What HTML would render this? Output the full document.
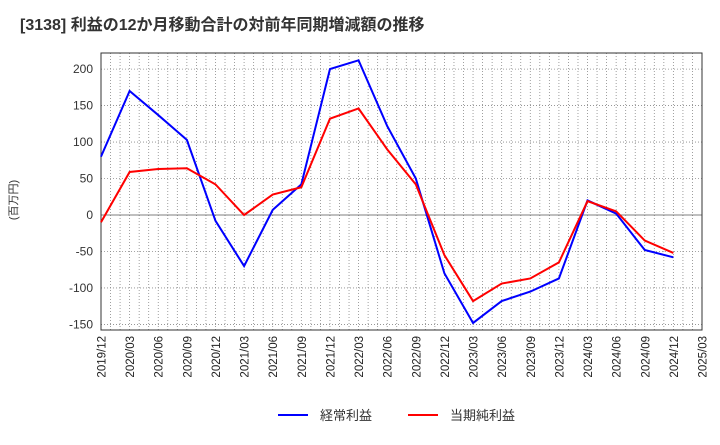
<!DOCTYPE html>
<html><head><meta charset="utf-8"><style>
body{margin:0;background:#fff;font-family:"Liberation Sans","Noto Sans CJK JP",sans-serif}
</style></head><body>
<svg width="720" height="440" xmlns="http://www.w3.org/2000/svg" font-family="Liberation Sans, Noto Sans CJK JP, sans-serif">
<text x="20" y="30" font-size="16" font-weight="bold" fill="#333">[3138]  利益の12か月移動合計の対前年同期増減額の推移</text>
<text transform="translate(17,200) rotate(-90)" font-size="11" fill="#333" text-anchor="middle">(百万円)</text>
<g id="grid"></g><g id="axes"></g><g id="series"></g>
<g>
<line x1="278" y1="415" x2="308" y2="415" stroke="#0000ff" stroke-width="2"/>
<text x="320" y="420" font-size="13" fill="#333">経常利益</text>
<line x1="408" y1="415" x2="438" y2="415" stroke="#ff0000" stroke-width="2"/>
<text x="450" y="420" font-size="13" fill="#333">当期純利益</text>
</g>
</svg>
<script>
const categories=["2019/12","2020/03","2020/06","2020/09","2020/12","2021/03","2021/06","2021/09","2021/12","2022/03","2022/06","2022/09","2022/12","2023/03","2023/06","2023/09","2023/12","2024/03","2024/06","2024/09","2024/12","2025/03"];
const ordinaryProfit=[80,170,137,103,-8,-70,7,42,200,212,122,50,-80,-148,-118,-105,-87,20,2,-48,-58];
const netProfit=[-10,59,63,64,42,0,28,38,132,146,90,42,-55,-118,-94,-87,-65,19,5,-35,-52];
const yTicks=[200,150,100,50,0,-50,-100,-150];
const L=101,R=702,T=53,B=330;
const x=i=>L+(R-L)*i/(categories.length-1);
const y=v=>215-v*0.7295;
const ns="http://www.w3.org/2000/svg";
function mk(p,t,a){const e=document.createElementNS(ns,t);for(const k in a)e.setAttribute(k,a[k]);p.appendChild(e);return e;}
const g=document.getElementById('grid'),ax=document.getElementById('axes'),s=document.getElementById('series');
const months=(categories.length-1)*3;
for(let m=1;m<months;m++){const xx=L+(R-L)*m/months;
const l=mk(g,'line',{x1:xx,y1:T,x2:xx,y2:B,stroke:'#888','stroke-width':0.8,'stroke-dasharray':'1,2'});

}
yTicks.forEach(v=>{const l=mk(g,'line',{x1:L,y1:y(v),x2:R,y2:y(v),stroke:v===0?'#555':'#888','stroke-width':0.8,'stroke-dasharray':v===0?'':'1,2'});


const t=mk(ax,'text',{x:L-8,y:y(v)+4,'font-size':12,fill:'#333','text-anchor':'end'});t.textContent=v;

});
const fr=mk(ax,'rect',{x:L,y:T,width:R-L,height:B-T,fill:'none',stroke:'#333','stroke-width':1});


categories.forEach((c,i)=>{const t=mk(ax,'text',{transform:`translate(${x(i)+4.5},${B+6}) rotate(-90)`,'font-size':11.5,fill:'#222','text-anchor':'end'});t.textContent=c;

});
[[ordinaryProfit,'#0000ff','line-ordinary-profit'],[netProfit,'#ff0000','line-net-profit']].forEach(([d,c,n])=>{
const p=mk(s,'polyline',{points:d.map((v,i)=>x(i)+','+y(v)).join(' '),fill:'none',stroke:c,'stroke-width':2});

});
</script>
</body></html>
